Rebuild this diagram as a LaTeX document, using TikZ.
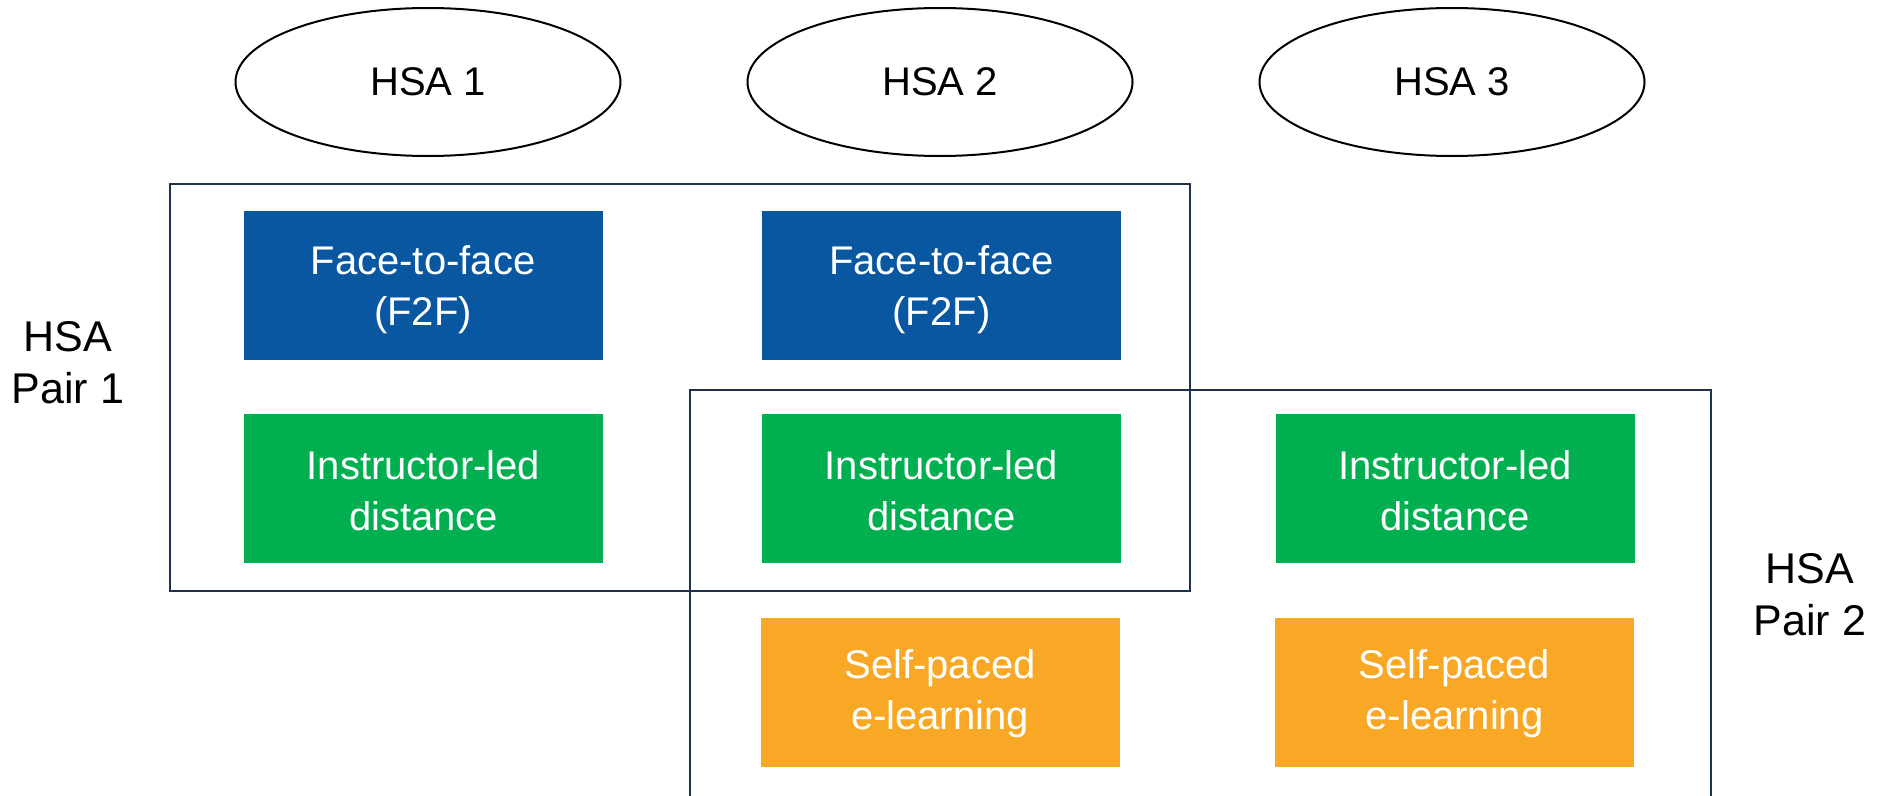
\documentclass[tikz,border=0pt]{standalone}
\usepackage{fontspec}
\setmainfont{Liberation Sans}
\usetikzlibrary{shapes.geometric}
\definecolor{f2fblue}{HTML}{0857A0}
\definecolor{ilgreen}{HTML}{00B050}
\definecolor{spor}{HTML}{F9A826}
\definecolor{navy}{HTML}{1F3050}
\tikzset{
  hsa/.style={ellipse, draw=black, line width=2pt, minimum width=385pt, minimum height=148pt, inner sep=0pt, font=\fontsize{40}{47}\selectfont},
  mode/.style={rectangle, minimum width=359pt, minimum height=149pt, inner sep=0pt, text=white, align=center, font=\fontsize{40}{51}\selectfont},
  modetext/.style={align=center, text=white, font=\fontsize{40}{51}\selectfont},
  f2f/.style={mode, fill=f2fblue},
  ild/.style={mode, fill=ilgreen},
  spe/.style={mode, fill=spor},
  grp/.style={rectangle, draw=navy, line width=2pt, inner sep=0pt},
  side/.style={align=center, font=\fontsize{43}{52}\selectfont}
}
\begin{document}
\begin{tikzpicture}[x=1pt,y=-1pt]
\clip (0,0) rectangle (1889,795);
\fill[white] (0,0) rectangle (1889,795);
\useasboundingbox (0,0) rectangle (1889,795);
\node[hsa] (h1) at (428,82) {HSA 1};
\node[hsa] (h2) at (940,82) {HSA 2};
\node[hsa] (h3) at (1452,82) {HSA 3};
\node[f2f] (f1) at (423,285.5) {};
\node[f2f] (f2) at (941.5,285.5) {};
\node[ild] (i1) at (423.5,488.5) {};
\node[ild] (i2) at (941.5,488.5) {};
\node[ild] (i3) at (1455,488.5) {};
\node[spe] (s2) at (940,692.5) {};
\node[spe] (s3) at (1454.5,692.5) {};
\node[modetext, yshift=-4pt] (tf1) at (f1) {Face-to-face\\(F2F)};
\node[modetext, yshift=-4pt] (tf2) at (f2) {Face-to-face\\(F2F)};
\node[modetext, yshift=-2pt] (ti1) at (i1) {Instructor-led\\distance};
\node[modetext, yshift=-2pt] (ti2) at (i2) {Instructor-led\\distance};
\node[modetext, yshift=-2pt] (ti3) at (i3) {Instructor-led\\distance};
\node[modetext, yshift=-1pt] (ts2) at (s2) {Self-paced\\e-learning};
\node[modetext, yshift=-1pt] (ts3) at (s3) {Self-paced\\e-learning};
\node[grp, minimum width=1020pt, minimum height=407pt] (p1) at (680,387.5) {};
\node[grp, minimum width=1021pt, minimum height=430pt] (p2) at (1200.5,605) {};
\node[side] (l1) at (68,363) {HSA\\Pair 1};
\node[side] (l2) at (1810,595) {HSA\\Pair 2};
\end{tikzpicture}
\end{document}
